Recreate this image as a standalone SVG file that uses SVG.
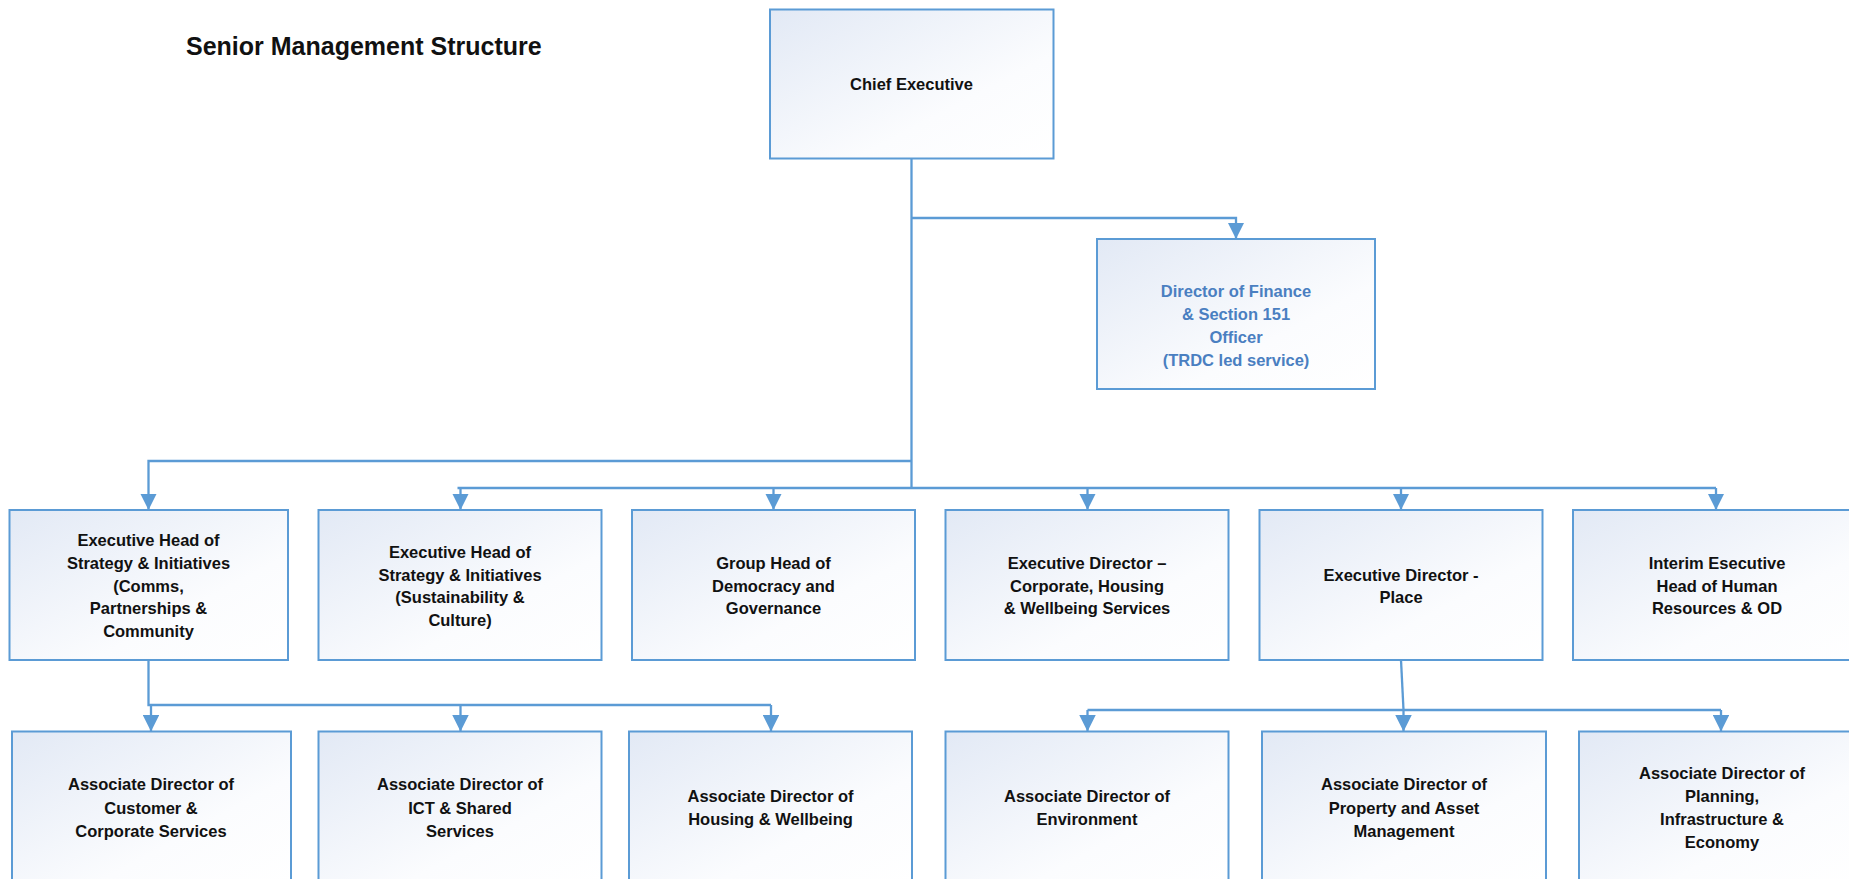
<svg xmlns="http://www.w3.org/2000/svg" width="1849" height="879" viewBox="0 0 1849 879">
<style>
.box{fill:url(#g);stroke:#5b9bd5;stroke-width:2}
.t{font-family:"Liberation Sans",Arial,sans-serif;font-weight:bold;font-size:16.5px;fill:#111;text-anchor:middle}
.blue{fill:#4a7fc1}
.c{fill:none;stroke:#5b9bd5;stroke-width:2.3}
.a{fill:none;stroke:#5b9bd5;stroke-width:2.3;marker-end:url(#arr)}
</style>
<defs>
<linearGradient id="g" x1="0" y1="0" x2="1" y2="1">
<stop offset="0" stop-color="#e2e9f5"/>
<stop offset="0.65" stop-color="#fbfcfe"/>
<stop offset="1" stop-color="#ffffff"/>
</linearGradient>
<marker id="arr" viewBox="0 0 10 10" refX="10" refY="5" markerWidth="16.5" markerHeight="16.5" markerUnits="userSpaceOnUse" orient="auto">
<path d="M0,0 L10,5 L0,10 z" fill="#5b9bd5"/>
</marker>
</defs>
<rect width="1849" height="879" fill="#ffffff"/>
<text x="186" y="55" style="font-family:'Liberation Sans',Arial,sans-serif;font-weight:bold;font-size:25px;fill:#111">Senior Management Structure</text>

<g id="connectors">
<path class="c" d="M911.5,158.5 V488"/>
<path class="a" d="M911.5,218 H1236 V239"/>
<path class="a" d="M911.5,461 H148.5 V510"/>
<path class="c" d="M457.5,488 H1716"/>
<path class="a" d="M460.5,488 V510"/>
<path class="a" d="M773.5,488 V510"/>
<path class="a" d="M1087.5,488 V510"/>
<path class="a" d="M1401,488 V510"/>
<path class="a" d="M1716,488 V510"/>
<path class="c" d="M148.5,660 V705 H771"/>
<path class="a" d="M151,705 V731.5"/>
<path class="a" d="M460.5,705 V731.5"/>
<path class="a" d="M771,705 V731.5"/>
<path class="c" d="M1401,660 L1403.5,710"/>
<path class="c" d="M1087.5,710 H1721"/>
<path class="a" d="M1087.5,710 V731.5"/>
<path class="a" d="M1403.5,710 V731.5"/>
<path class="a" d="M1721,710 V731.5"/>
</g>

<g id="chief"><rect class="box" x="770" y="9.5" width="283.5" height="149"/>
<text class="t" x="911.5" y="90">Chief Executive</text></g>

<g id="finance"><rect class="box" x="1097" y="239" width="278" height="150"/>
<text class="t blue"><tspan x="1236" y="297">Director of Finance</tspan><tspan x="1236" y="320">&amp; Section 151</tspan><tspan x="1236" y="343">Officer</tspan><tspan x="1236" y="366">(TRDC led service)</tspan></text></g>

<g id="strategy-comms"><rect class="box" x="9.5" y="510" width="278.5" height="150"/>
<text class="t"><tspan x="148.5" y="546">Executive Head of</tspan><tspan x="148.5" y="568.5">Strategy &amp; Initiatives</tspan><tspan x="148.5" y="591.5">(Comms,</tspan><tspan x="148.5" y="614">Partnerships &amp;</tspan><tspan x="148.5" y="637">Community</tspan></text></g>

<g id="strategy-sustain"><rect class="box" x="318.5" y="510" width="283" height="150"/>
<text class="t"><tspan x="460" y="558">Executive Head of</tspan><tspan x="460" y="580.5">Strategy &amp; Initiatives</tspan><tspan x="460" y="603">(Sustainability &amp;</tspan><tspan x="460" y="625.5">Culture)</tspan></text></g>

<g id="democracy"><rect class="box" x="632" y="510" width="283" height="150"/>
<text class="t"><tspan x="773.5" y="568.5">Group Head of</tspan><tspan x="773.5" y="591.5">Democracy and</tspan><tspan x="773.5" y="614">Governance</tspan></text></g>

<g id="exec-corporate"><rect class="box" x="945.5" y="510" width="283" height="150"/>
<text class="t"><tspan x="1087" y="568.5">Executive Director –</tspan><tspan x="1087" y="591.5">Corporate, Housing</tspan><tspan x="1087" y="614">&amp; Wellbeing Services</tspan></text></g>

<g id="exec-place"><rect class="box" x="1259.5" y="510" width="283" height="150"/>
<text class="t"><tspan x="1401" y="580.5">Executive Director -</tspan><tspan x="1401" y="603">Place</tspan></text></g>

<g id="hr"><rect class="box" x="1573" y="510" width="288" height="150"/>
<text class="t"><tspan x="1717" y="568.5">Interim Esecutive</tspan><tspan x="1717" y="591.5">Head of Human</tspan><tspan x="1717" y="614">Resources &amp; OD</tspan></text></g>

<g id="ad-customer"><rect class="box" x="12" y="731.5" width="279" height="152"/>
<text class="t"><tspan x="151" y="790">Associate Director of</tspan><tspan x="151" y="813.5">Customer &amp;</tspan><tspan x="151" y="837">Corporate Services</tspan></text></g>

<g id="ad-ict"><rect class="box" x="318.5" y="731.5" width="283" height="152"/>
<text class="t"><tspan x="460" y="790">Associate Director of</tspan><tspan x="460" y="813.5">ICT &amp; Shared</tspan><tspan x="460" y="837">Services</tspan></text></g>

<g id="ad-housing"><rect class="box" x="629" y="731.5" width="283" height="152"/>
<text class="t"><tspan x="770.5" y="802">Associate Director of</tspan><tspan x="770.5" y="824.5">Housing &amp; Wellbeing</tspan></text></g>

<g id="ad-environment"><rect class="box" x="945.5" y="731.5" width="283" height="152"/>
<text class="t"><tspan x="1087" y="802">Associate Director of</tspan><tspan x="1087" y="824.5">Environment</tspan></text></g>

<g id="ad-property"><rect class="box" x="1262" y="731.5" width="284" height="152"/>
<text class="t"><tspan x="1404" y="790">Associate Director of</tspan><tspan x="1404" y="813.5">Property and Asset</tspan><tspan x="1404" y="837">Management</tspan></text></g>

<g id="ad-planning"><rect class="box" x="1579" y="731.5" width="286" height="152"/>
<text class="t"><tspan x="1722" y="779">Associate Director of</tspan><tspan x="1722" y="802">Planning,</tspan><tspan x="1722" y="824.5">Infrastructure &amp;</tspan><tspan x="1722" y="847.5">Economy</tspan></text></g>
</svg>
